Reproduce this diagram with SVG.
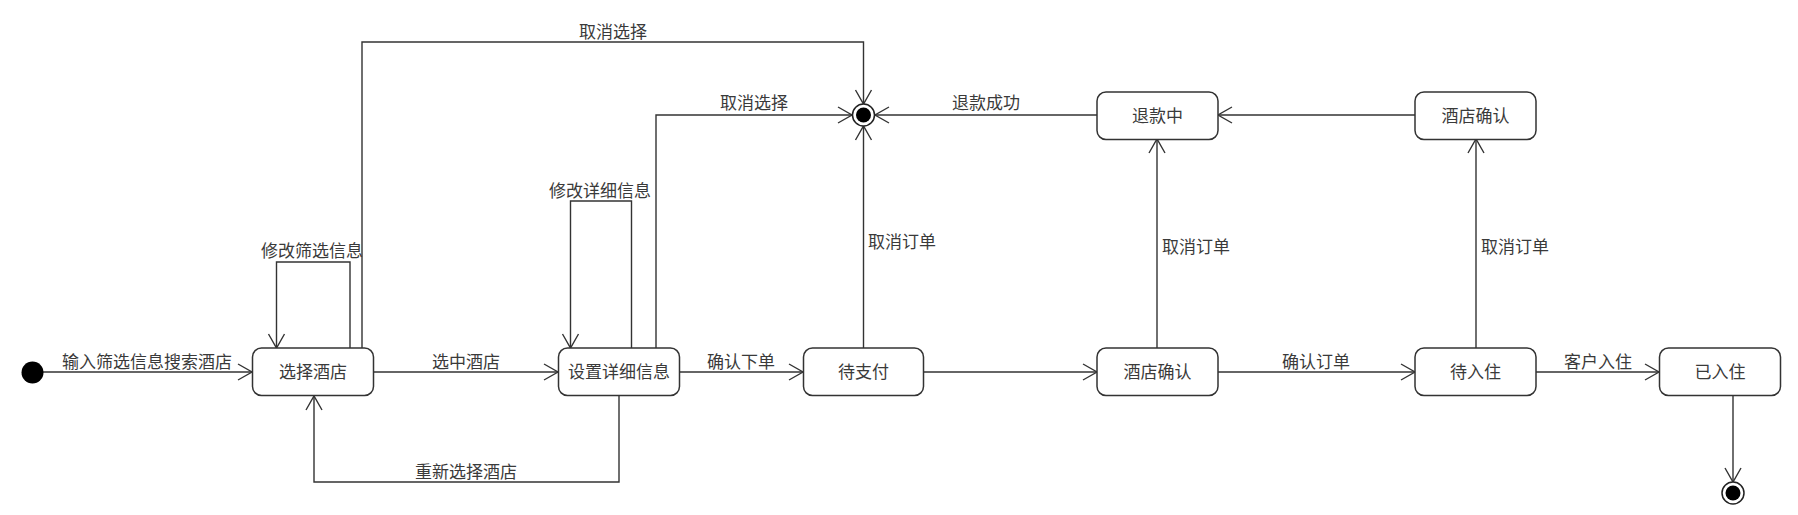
<svg xmlns="http://www.w3.org/2000/svg" width="1798" height="515" viewBox="0 0 1798 515">
<defs>
<style>
.node rect{fill:#fff;stroke:#333;stroke-width:1.5}
.t{font-family:"Noto Sans CJK SC","Liberation Serif",sans-serif;font-size:17px;fill:#3a3a3a;text-anchor:middle}
.c path{fill:none;stroke:#333;stroke-width:1.4}
</style>
<marker id="a" markerUnits="userSpaceOnUse" markerWidth="20" markerHeight="20" refX="0" refY="0" viewBox="-16 -10 18 20" orient="auto" overflow="visible">
<path d="M-14,-8 L0,0 L-14,8" fill="none" stroke="#333" stroke-width="1.4"/>
</marker>
</defs>
<rect width="1798" height="515" fill="#fff"/>
<g id="connectors" class="c">
<path d="M43,372 H252" marker-end="url(#a)"/>
<path d="M373,372 H558" marker-end="url(#a)"/>
<path d="M680,372 H803" marker-end="url(#a)"/>
<path d="M924,372 H1097" marker-end="url(#a)"/>
<path d="M1218,372 H1415" marker-end="url(#a)"/>
<path d="M1536,372 H1659" marker-end="url(#a)"/>
<path d="M1733,396 V482" marker-end="url(#a)"/>
<path d="M619,396 V482 H314 V396" marker-end="url(#a)"/>
<path d="M350,348 V262 H276.5 V348" marker-end="url(#a)"/>
<path d="M631.5,348 V201 H570.5 V348" marker-end="url(#a)"/>
<path d="M362,348 V42 H863.5 V104" marker-end="url(#a)"/>
<path d="M656,348 V115 H852" marker-end="url(#a)"/>
<path d="M863.5,348 V126" marker-end="url(#a)"/>
<path d="M1097,115 H875" marker-end="url(#a)"/>
<path d="M1415,115 H1218" marker-end="url(#a)"/>
<path d="M1157,348 V139" marker-end="url(#a)"/>
<path d="M1476,348 V139" marker-end="url(#a)"/>
</g>
<g id="labels">
<text class="t" x="147" y="368">输入筛选信息搜索酒店</text>
<text class="t" x="466" y="368">选中酒店</text>
<text class="t" x="466" y="478">重新选择酒店</text>
<text class="t" x="741" y="368">确认下单</text>
<text class="t" x="1316" y="368">确认订单</text>
<text class="t" x="1598" y="368">客户入住</text>
<text class="t" x="613" y="38">取消选择</text>
<text class="t" x="754" y="109">取消选择</text>
<text class="t" x="986" y="109">退款成功</text>
<text class="t" x="902" y="248">取消订单</text>
<text class="t" x="1196" y="253">取消订单</text>
<text class="t" x="1515" y="253">取消订单</text>
<text class="t" x="312" y="257">修改筛选信息</text>
<text class="t" x="600" y="197">修改详细信息</text>
</g>
<g id="initial"><circle cx="32.5" cy="372.5" r="11" fill="#000"/></g>
<g id="final1"><circle cx="863.5" cy="115" r="11" fill="#fff" stroke="#222" stroke-width="1.5"/><circle cx="863.5" cy="115" r="7.5" fill="#000"/></g>
<g id="final2"><circle cx="1733" cy="493" r="11" fill="#fff" stroke="#222" stroke-width="1.5"/><circle cx="1733" cy="493" r="7.5" fill="#000"/></g>
<g id="n1" class="node"><rect x="252.5" y="348" width="121" height="47.5" rx="9"/><text class="t" x="313" y="378">选择酒店</text></g>
<g id="n2" class="node"><rect x="558.5" y="348" width="121" height="47.5" rx="9"/><text class="t" x="619" y="378">设置详细信息</text></g>
<g id="n3" class="node"><rect x="803.5" y="348" width="120" height="47.5" rx="9"/><text class="t" x="863.5" y="378">待支付</text></g>
<g id="n4" class="node"><rect x="1097" y="348" width="121" height="47.5" rx="9"/><text class="t" x="1157.5" y="378">酒店确认</text></g>
<g id="n5" class="node"><rect x="1415" y="348" width="121" height="47.5" rx="9"/><text class="t" x="1475.5" y="378">待入住</text></g>
<g id="n6" class="node"><rect x="1659.5" y="348" width="121" height="47.5" rx="9"/><text class="t" x="1720" y="378">已入住</text></g>
<g id="n7" class="node"><rect x="1097" y="92" width="121" height="47.5" rx="9"/><text class="t" x="1157.5" y="121.5">退款中</text></g>
<g id="n8" class="node"><rect x="1415" y="92" width="121" height="47.5" rx="9"/><text class="t" x="1475.5" y="121.5">酒店确认</text></g>
</svg>
